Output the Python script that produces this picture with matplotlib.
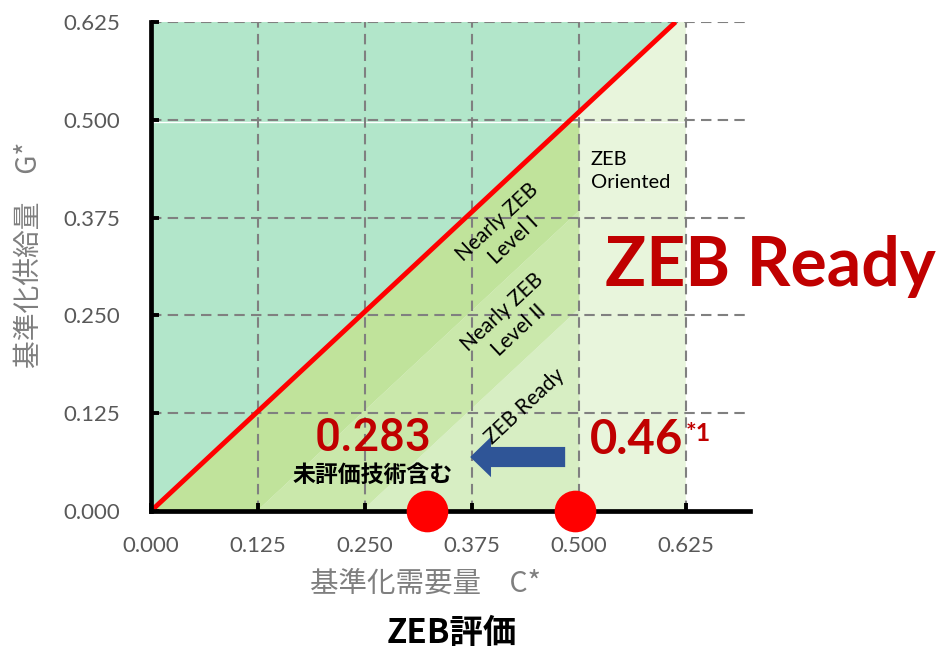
import numpy as np
import matplotlib
matplotlib.use("Agg")
import matplotlib.pyplot as plt
from matplotlib.patches import FancyArrowPatch

plt.rcParams['font.family'] = ['Lato', 'Noto Sans CJK JP', 'DejaVu Sans']

# ---- data ----
ticks = [0.000, 0.125, 0.250, 0.375, 0.500, 0.625]
tick_labels = ["0.000", "0.125", "0.250", "0.375", "0.500", "0.625"]
line_c = [0.0, 0.613]          # ZEB line (G* = C*)
line_g = [0.0, 0.625]
band_offsets = [0.0, 0.125, 0.25]   # Nearly ZEB I / II / Ready boundaries
ready_max_c = 0.5
ready_max_g = 0.5
oriented_max_c = 0.625
points_c = [0.323, 0.496]
points_g = [0.0, 0.0]
arrow_from = (0.484, 0.069)
arrow_to = (0.373, 0.069)
value_new = "0.283"
value_old = "0.46"

# ---- colors ----
c_teal = "#b2e6ca"
c_lv1 = "#c0e39b"
c_lv2 = "#cae8ab"
c_ready = "#d7eec3"
c_orient = "#e8f5dc"
c_red = "#c00000"
c_gray = "#595959"

W, H = 946, 648
fig = plt.figure(figsize=(W / 100, H / 100), dpi=100)
ax = fig.add_axes([151 / W, 1 - 511 / H, (750 - 151) / W, (511 - 22) / H])
ax.set_xlim(0, 0.70)
ax.set_ylim(0, 0.625)

k = line_g[1] / line_c[1]
ymax = ax.get_ylim()[1]

# teal region above the ZEB line
ax.fill([0, line_c[1], 0], [0, line_g[1], ymax], color=c_teal, lw=0, zorder=1)
# ZEB Oriented region (right of line up to 0.625)
ax.fill([0, line_c[1], oriented_max_c, oriented_max_c], [0, line_g[1], ymax, 0],
        color=c_orient, lw=0, zorder=1)

c = np.linspace(0, ready_max_c, 400)
band_colors = [c_lv1, c_lv2, c_ready]
edges = band_offsets + [np.inf]
for i, col in enumerate(band_colors):
    upper = np.clip(k * c - edges[i], 0, ready_max_g)
    lower = np.clip(k * c - edges[i + 1], 0, ready_max_g) if np.isfinite(edges[i + 1]) else np.zeros_like(c)
    ax.fill_between(c, lower, upper, where=upper > lower, color=col, lw=0, zorder=1.2)

ax.hlines(ready_max_g - 0.003, 0, oriented_max_c, color="white", lw=1.0, zorder=1.5)

# grid
ax.set_axisbelow(False)
ax.set_xticks(ticks)
ax.set_yticks(ticks)
ax.set_xticklabels(tick_labels)
ax.set_yticklabels(tick_labels)
ax.grid(True, color="#808080", linestyle=(0, (5, 3)), linewidth=1.5, zorder=2)
for gl in ax.get_xgridlines() + ax.get_ygridlines():
    gl.set_zorder(2)

# ZEB line
ax.plot(line_c, line_g, color="#ff0000", lw=3.5, zorder=4, solid_capstyle="butt")

for s in ["top", "right"]:
    ax.spines[s].set_visible(False)
for s in ["left", "bottom"]:
    ax.spines[s].set_linewidth(3.4)
    ax.spines[s].set_color("black")
    ax.spines[s].set_zorder(4.5)

ax.tick_params(axis="both", direction="in", length=6, width=2.8, colors="black",
               labelcolor=c_gray, labelsize=16)
ax.tick_params(axis="x", pad=18)
ax.tick_params(axis="y", pad=22)

# red points
ax.plot(points_c, points_g, "o", color="#ff0000", markersize=30, mec="none",
        clip_on=False, zorder=6)

# arrow
arr = FancyArrowPatch(arrow_from, arrow_to, arrowstyle="simple,head_width=2.9,head_length=1.5,tail_width=1.45",
                      mutation_scale=10, color="#2f5597", lw=0, shrinkA=0, shrinkB=0, zorder=5)
ax.add_patch(arr)

# region labels
rot = 43
ax.text(0.414, 0.358, "Nearly ZEB\nLevel I", rotation=rot, rotation_mode="anchor",
        ha="center", va="center", multialignment="center", fontsize=15, linespacing=1.3, zorder=5)
ax.text(0.420, 0.242, "Nearly ZEB\nLevel II", rotation=rot, rotation_mode="anchor",
        ha="center", va="center", multialignment="center", fontsize=15, linespacing=1.3, zorder=5)
ax.text(0.437, 0.133, "ZEB Ready", rotation=rot, rotation_mode="anchor",
        ha="center", va="center", fontsize=15, zorder=5)
ax.text(0.514, 0.435, "ZEB\nOriented", ha="left", va="center", fontsize=14.5,
        linespacing=1.45, zorder=5)

# values
ax.text(0.259, 0.093, value_new, ha="center", va="center", color=c_red, fontsize=33,
        family=["Roboto"], fontweight=500, zorder=5)
ax.text(0.259, 0.045, "未評価技術含む", ha="center", va="center", color="black", fontsize=16.5,
        fontweight="bold", family=["Noto Sans CJK JP"], zorder=5)
ax.text(0.513, 0.091, value_old, ha="left", va="center", color=c_red, fontsize=34,
        fontweight="bold", zorder=5)
ax.text(0.625, 0.099, "*1", ha="left", va="center", color=c_red, fontsize=18,
        fontweight="bold", zorder=5, clip_on=False)

# big title inside
fig.text(605 / W, 1 - 267 / H, "ZEB Ready", ha="left", va="center", color=c_red,
         fontsize=49, fontweight="bold")

# axis labels
fig.text(425 / W, 1 - 584 / H, "基準化需要量　C*", ha="center", va="center", color="#7f7f7f",
         fontsize=20.5, family=["Noto Sans CJK JP"])
fig.text(29 / W, 1 - 255 / H, "基準化供給量　G*", ha="center", va="center", color="#7f7f7f",
         fontsize=20, rotation=90, family=["Noto Sans CJK JP"])
fig.text(452 / W, 1 - 633 / H, "ZEB評価", ha="center", va="center", color="black",
         fontsize=24, fontweight="bold", family=["Noto Sans CJK JP"])

fig.savefig("out.png", dpi=100)
